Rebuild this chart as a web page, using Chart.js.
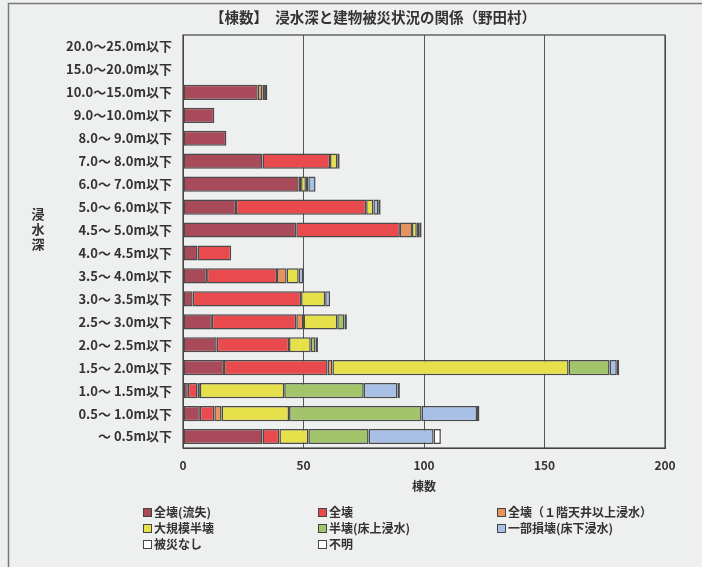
<!DOCTYPE html>
<html><head><meta charset="utf-8">
<script src="https://cdn.jsdelivr.net/npm/chart.js@4.4.1/dist/chart.umd.min.js"></script>
<style>
html,body{margin:0;padding:0;background:#eeefef;}
#wrap{position:relative;width:702px;height:567px;overflow:hidden;font-family:"Noto Sans CJK JP","Noto Sans",sans-serif;}
canvas{position:absolute;left:0;top:0;}
#ytitle{position:absolute;left:30px;top:206px;width:16px;font-size:13px;font-weight:bold;color:#333;line-height:15px;text-align:center;}
.lg{position:absolute;font-size:12px;font-weight:bold;color:#333;white-space:nowrap;line-height:14px;}
.lg i{display:inline-block;width:7px;height:7px;border:1px solid #444;margin-right:2px;vertical-align:0px;}
</style></head>
<body><div id="wrap"><canvas id="c" width="702" height="567"></canvas><div id="ytitle"></div><div id="legend"></div></div>
<script>
const title = '【棟数】　浸水深と建物被災状況の関係（野田村）';
const yTitle = '浸水深';
const xTitle = '棟数';
const categories = ['20.0～25.0m以下','15.0～20.0m以下','10.0～15.0m以下','9.0～10.0m以下','8.0～ 9.0m以下','7.0～ 8.0m以下','6.0～ 7.0m以下','5.0～ 6.0m以下','4.5～ 5.0m以下','4.0～ 4.5m以下','3.5～ 4.0m以下','3.0～ 3.5m以下','2.5～ 3.0m以下','2.0～ 2.5m以下','1.5～ 2.0m以下','1.0～ 1.5m以下','0.5～ 1.0m以下','～ 0.5m以下'];
const seriesNames = ['全壊(流失)','全壊','全壊（１階天井以上浸水）','大規模半壊','半壊(床上浸水)','一部損壊(床下浸水)','被災なし','不明'];
const zenkaiRyushitsu = [0,0,31,13,18,33,48,22,47,6,10,4,12,14,17,2,7,33];
const zenkai          = [0,0,0,0,0,28,0,54,43,14,29,45,35,30,43,4,6,7];
const zenkaiTenjo     = [0,0,2,0,0,0,1,0,5,0,4,0,3,0,2,1,3,0];
const daikiboHankai   = [0,0,1,0,0,3,2,3,2,0,5,10,14,9,98,35,28,12];
const hankai          = [0,0,0,0,0,0,1,0,1,0,0,0,3,2,17,33,55,25];
const ichibuSonkai    = [0,0,0,0,0,0,3,2,1,0,2,2,0,0,3,14,23,27];
const hisaiNashi      = [0,0,1,0,0,1,0,1,0,0,0,0,1,1,1,1,1,3];
const fumei           = [0,0,0,0,0,0,0,0,0,0,0,0,0,0,0,0,0,0];
const xTicks = [0,50,100,150,200];
const seriesData = [zenkaiRyushitsu,zenkai,zenkaiTenjo,daikiboHankai,hankai,ichibuSonkai,hisaiNashi,fumei];
const colors = ['#a84a5a','#e84a4e','#e8925e','#e6e04a','#a2c46a','#a8c0e6','#ffffff','#ffffff'];

document.getElementById('ytitle').innerHTML = yTitle.split('').join('<br>');
const lgPos = [[143,505],[318,505],[497,505],[143,521],[318,521],[497,521],[143,537],[318,537]];
const lg = document.getElementById('legend');
seriesNames.forEach((n,i)=>{
  const d=document.createElement('div');d.className='lg';
  d.style.left=lgPos[i][0]+'px';d.style.top=lgPos[i][1]+'px';
  const b=document.createElement('i');b.style.background=colors[i];
  d.appendChild(b);d.appendChild(document.createTextNode(n));lg.appendChild(d);
});

const frame = {
  id:'frame',
  beforeDraw(chart){
    const ctx=chart.ctx;ctx.save();
    ctx.strokeStyle='#777';ctx.lineWidth=1.5;
    ctx.beginPath();ctx.moveTo(8.5,567);ctx.lineTo(8.5,3.5);ctx.lineTo(702,3.5);ctx.stroke();
    ctx.fillStyle='#333';ctx.font='bold 14.5px "Noto Sans CJK JP"';ctx.textAlign='center';ctx.textBaseline='middle';
    ctx.fillText(title,373,17);
    ctx.restore();
  },
  afterDatasetsDraw(chart){
    const a=chart.chartArea,ctx=chart.ctx;ctx.save();
    ctx.strokeStyle='#444';ctx.lineWidth=1.2;
    ctx.strokeRect(a.left,a.top,a.right-a.left,a.bottom-a.top);
    ctx.restore();
  }
};

new Chart(document.getElementById('c'),{
  type:'bar',
  data:{labels:categories,datasets:seriesNames.map((n,i)=>({label:n,data:seriesData[i],backgroundColor:colors[i],borderColor:'#4a4a4a',borderWidth:1.5,borderSkipped:false,barPercentage:0.66,categoryPercentage:1}))},
  options:{
    indexAxis:'y',responsive:false,animation:false,
    layout:{padding:{left:8,right:37,top:35,bottom:69}},
    plugins:{legend:{display:false},tooltip:{enabled:false},title:{display:false}},
    scales:{
      x:{stacked:true,min:0,max:200,
        afterBuildTicks(s){s.ticks=xTicks.map(v=>({value:v}));},
        afterFit(s){s.height=50;},
        grid:{color:'#555',lineWidth:1,drawTicks:false},
        border:{color:'#444'},
        ticks:{padding:10,color:'#333',font:{family:'"Noto Sans CJK JP"',size:12,weight:'bold'},maxRotation:0},
        title:{display:true,text:xTitle,color:'#333',font:{family:'"Noto Sans CJK JP"',size:12,weight:'bold'},padding:{top:0,bottom:4}}
      },
      y:{stacked:true,
        afterFit(s){s.width=175;},
        grid:{display:false,drawTicks:false},
        border:{color:'#444'},
        ticks:{padding:11,color:'#333',font:{family:'"Noto Sans CJK JP"',size:13,weight:'bold'},autoSkip:false}
      }
    }
  },
  plugins:[frame]
});
</script></body></html>
